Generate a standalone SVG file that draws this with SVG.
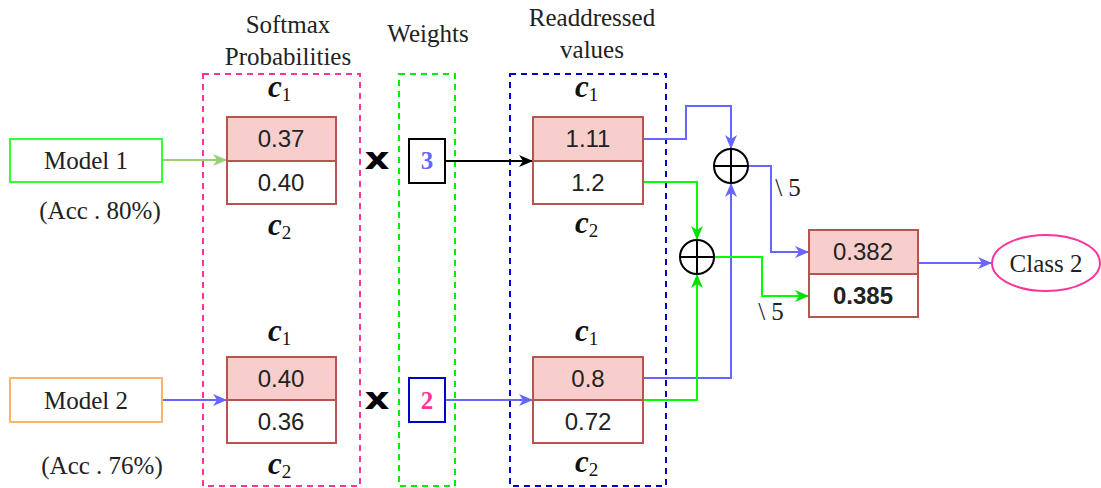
<svg xmlns="http://www.w3.org/2000/svg" width="1101" height="488" viewBox="0 0 1101 488">
<style>
.lbl{font-family:'Liberation Serif','DejaVu Serif',serif;font-size:25px;fill:#222;text-anchor:middle;}
.num{font-family:'Liberation Sans','DejaVu Sans',sans-serif;font-size:24px;fill:#222;text-anchor:middle;}
.math{font-family:'Liberation Serif','DejaVu Serif',serif;font-style:italic;font-weight:bold;font-size:31px;fill:#111;}
.sub{font-style:normal;font-weight:normal;font-size:19px;}
.cellA{fill:#f8cecc;stroke:#b85450;stroke-width:2;}
.cellB{fill:#ffffff;stroke:#b85450;stroke-width:2;}
.dash{fill:none;stroke-width:2;stroke-dasharray:6 5;}
.times{font-family:'DejaVu Sans',sans-serif;font-weight:bold;font-size:30px;fill:#000;text-anchor:middle;}
.conn{fill:none;stroke-width:2;}
.wt{font-family:'Liberation Serif',serif;font-weight:bold;font-size:25px;text-anchor:middle;}
</style>
<defs>
<marker id="aBlue" viewBox="0 0 14 12" refX="14" refY="6" markerWidth="14" markerHeight="12" markerUnits="userSpaceOnUse" orient="auto"><path d="M0,0 L14,6 L0,12 L4,6 z" fill="#6666FF"/></marker>
<marker id="aGreen" viewBox="0 0 14 12" refX="14" refY="6" markerWidth="14" markerHeight="12" markerUnits="userSpaceOnUse" orient="auto"><path d="M0,0 L14,6 L0,12 L4,6 z" fill="#00E000"/></marker>
<marker id="aLGreen" viewBox="0 0 14 12" refX="14" refY="6" markerWidth="14" markerHeight="12" markerUnits="userSpaceOnUse" orient="auto"><path d="M0,0 L14,6 L0,12 L4,6 z" fill="#97D077"/></marker>
<marker id="aBlack" viewBox="0 0 14 12" refX="14" refY="6" markerWidth="14" markerHeight="12" markerUnits="userSpaceOnUse" orient="auto"><path d="M0,0 L14,6 L0,12 L4,6 z" fill="#000"/></marker>
</defs>
<rect width="1101" height="488" fill="#fff"/>

<g id="softmax-group">
<rect class="dash" x="203" y="74" width="157" height="412" stroke="#FF3399"/>
<text class="lbl" x="288" y="33">Softmax</text>
<text class="lbl" x="288" y="65">Probabilities</text>
</g>
<g id="weights-group">
<rect class="dash" x="399" y="74" width="56" height="412" stroke="#00EE00"/>
<text class="lbl" x="428" y="42">Weights</text>
</g>
<g id="readdressed-group">
<rect class="dash" x="510" y="74" width="156" height="412" stroke="#0000CC"/>
<text class="lbl" x="592" y="26">Readdressed</text>
<text class="lbl" x="592" y="58">values</text>
</g>

<g id="connectors">
<path class="conn" d="M162,160 H227" stroke="#97D077" marker-end="url(#aLGreen)"/>
<path class="conn" d="M162,400 H227" stroke="#6666FF" marker-end="url(#aBlue)"/>
<path class="conn" d="M445,161 H533" stroke="#000" marker-end="url(#aBlack)"/>
<path class="conn" d="M445,400 H533" stroke="#6666FF" marker-end="url(#aBlue)"/>
<path class="conn" d="M643,139 H686 V106 H731 V149" stroke="#6666FF" marker-end="url(#aBlue)"/>
<path class="conn" d="M643,378 H731 V183" stroke="#6666FF" marker-end="url(#aBlue)"/>
<path class="conn" d="M643,182 H697 V240" stroke="#00FF00" marker-end="url(#aGreen)"/>
<path class="conn" d="M643,400 H697 V274" stroke="#00FF00" marker-end="url(#aGreen)"/>
<path class="conn" d="M748,166 H771 V252 H809" stroke="#6666FF" marker-end="url(#aBlue)"/>
<path class="conn" d="M714,257 H762 V296 H809" stroke="#00FF00" marker-end="url(#aGreen)"/>
<path class="conn" d="M918,263 H992" stroke="#6666FF" marker-end="url(#aBlue)"/>
<text class="lbl" x="788" y="196">\ 5</text>
<text class="lbl" x="771" y="320">\ 5</text>
</g>

<g id="model1">
<rect x="10" y="139" width="152" height="43" fill="#fff" stroke="#33FF33" stroke-width="2"/>
<text class="lbl" x="86" y="169">Model 1</text>
<text class="lbl" x="100" y="219">(Acc . 80%)</text>
</g>
<g id="model2">
<rect x="10" y="378" width="152" height="44" fill="#fff" stroke="#FFB366" stroke-width="2"/>
<text class="lbl" x="86" y="409">Model 2</text>
<text class="lbl" x="102" y="474">(Acc . 76%)</text>
</g>

<g id="softmax1">
<text class="math" x="268" y="97">c<tspan class="sub" dy="4">1</tspan></text>
<rect class="cellA" x="227" y="117" width="109" height="44"/>
<rect class="cellB" x="227" y="161" width="109" height="43"/>
<text class="num" x="281" y="147">0.37</text>
<text class="num" x="281" y="191">0.40</text>
<text class="math" x="268" y="235">c<tspan class="sub" dy="4">2</tspan></text>
</g>
<g id="softmax2">
<text class="math" x="268" y="341">c<tspan class="sub" dy="4">1</tspan></text>
<rect class="cellA" x="227" y="357" width="109" height="43"/>
<rect class="cellB" x="227" y="400" width="109" height="43"/>
<text class="num" x="281" y="387">0.40</text>
<text class="num" x="281" y="430">0.36</text>
<text class="math" x="268" y="474">c<tspan class="sub" dy="4">2</tspan></text>
</g>

<g id="times1"><text class="times" x="377" y="169" textLength="25" lengthAdjust="spacingAndGlyphs">x</text></g>
<g id="times2"><text class="times" x="377" y="409" textLength="25" lengthAdjust="spacingAndGlyphs">x</text></g>

<g id="weight3">
<rect x="409" y="139" width="36" height="44" fill="#fff" stroke="#000" stroke-width="2"/>
<text class="wt" x="427" y="169" fill="#6666FF">3</text>
</g>
<g id="weight2">
<rect x="409" y="378" width="36" height="44" fill="#fff" stroke="#0000CC" stroke-width="2"/>
<text class="wt" x="427" y="409" fill="#FF3399">2</text>
</g>

<g id="readdressed1">
<text class="math" x="575" y="97">c<tspan class="sub" dy="4">1</tspan></text>
<rect class="cellA" x="533" y="117" width="110" height="44"/>
<rect class="cellB" x="533" y="161" width="110" height="43"/>
<text class="num" x="588" y="147">1.11</text>
<text class="num" x="588" y="191">1.2</text>
<text class="math" x="575" y="233">c<tspan class="sub" dy="4">2</tspan></text>
</g>
<g id="readdressed2">
<text class="math" x="575" y="341">c<tspan class="sub" dy="4">1</tspan></text>
<rect class="cellA" x="533" y="357" width="110" height="43"/>
<rect class="cellB" x="533" y="400" width="110" height="43"/>
<text class="num" x="588" y="387">0.8</text>
<text class="num" x="588" y="430">0.72</text>
<text class="math" x="575" y="472">c<tspan class="sub" dy="4">2</tspan></text>
</g>

<g id="sum1">
<circle cx="731" cy="166" r="17" fill="#fff" stroke="#000" stroke-width="2"/>
<path d="M714,166 H748 M731,149 V183" stroke="#000" stroke-width="2"/>
</g>
<g id="sum2">
<circle cx="697" cy="257" r="17" fill="#fff" stroke="#000" stroke-width="2"/>
<path d="M680,257 H714 M697,240 V274" stroke="#000" stroke-width="2"/>
</g>

<g id="result">
<rect class="cellA" x="809" y="230" width="109" height="44"/>
<rect class="cellB" x="809" y="274" width="109" height="43"/>
<text class="num" x="863" y="260">0.382</text>
<text class="num" x="863" y="304" font-weight="bold">0.385</text>
</g>

<g id="class2">
<ellipse cx="1046" cy="263" rx="54" ry="28" fill="#fff" stroke="#FF3399" stroke-width="2"/>
<text class="lbl" x="1046" y="272">Class 2</text>
</g>
</svg>
